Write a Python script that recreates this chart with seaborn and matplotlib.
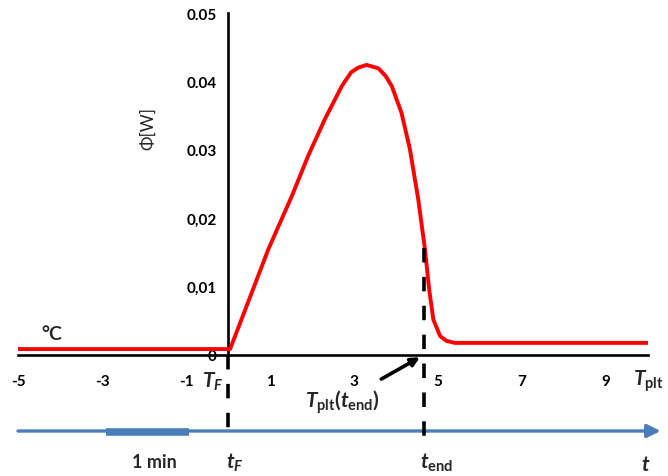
import matplotlib
matplotlib.use("Agg")
import matplotlib.pyplot as plt
import seaborn as sns
import pandas as pd

# ---- data ----
curve_x = [-5, 0.05, 0.5, 0.96, 1.52, 1.91, 2.31, 2.71, 2.93, 3.10, 3.30, 3.58, 3.75,
           3.90, 4.13, 4.33, 4.53, 4.69, 4.79, 4.89, 5.05, 5.2, 5.40, 10]
curve_y = [0.0008, 0.0008, 0.0080, 0.0154, 0.0232, 0.0291, 0.0345, 0.0393, 0.0413,
           0.0420, 0.0424, 0.0419, 0.0408, 0.0393, 0.0354, 0.0301, 0.0227, 0.0154,
           0.0095, 0.0051, 0.0027, 0.0020, 0.0017, 0.0017]
xticks = [-5, -3, -1, 1, 3, 5, 7, 9]
xtick_labels = ["-5", "-3", "-1", "1", "3", "5", "7", "9"]
yticks = [0, 0.01, 0.02, 0.03, 0.04, 0.05]
ytick_labels = ["0", "0,01", "0,02", "0.03", "0.04", "0.05"]
t_end = 4.67
t_end_level = 0.0156

sns.set_style("white")
plt.rcParams["font.family"] = ["Lato", "DejaVu Sans"]
plt.rcParams["mathtext.fontset"] = "custom"
plt.rcParams["mathtext.it"] = "Lato:italic:bold"
plt.rcParams["mathtext.rm"] = "Lato:bold"
plt.rcParams["mathtext.bf"] = "Lato:bold"

fig = plt.figure(figsize=(6.68, 4.77), dpi=100)
ax = fig.add_axes([18 / 668, (477 - 355.5) / 477, 630 / 668, 341.5 / 477])

df = pd.DataFrame({"x": curve_x, "y": curve_y})
sns.lineplot(data=df, x="x", y="y", color="#FF0000", lw=2.8, ax=ax, zorder=3)

ax.set_xlim(-5, 10)
ax.set_ylim(0, 0.05)
ax.set_xlabel("")
ax.set_ylabel("")

for s in ["top", "right"]:
    ax.spines[s].set_visible(False)
ax.spines["left"].set_position(("data", 0))
ax.spines["bottom"].set_position(("data", 0))
for s in ["left", "bottom"]:
    ax.spines[s].set_linewidth(1.9)
    ax.spines[s].set_color("black")

ax.set_xticks(xticks)
ax.set_xticklabels(xtick_labels, fontweight="bold", fontsize=11)
ax.set_yticks(yticks)
ax.set_yticklabels(ytick_labels, fontweight="bold", fontsize=11)
ax.tick_params(axis="x", direction="out", length=4, width=2, pad=10, colors="black")
ax.tick_params(axis="y", direction="out", length=4, width=2, pad=4, colors="black")

# y label
ax.text(-1.9, 0.0333, "Φ[W]", rotation=90, fontsize=12.5, ha="center", va="center",
        family=["Lato", "DejaVu Sans"])
ax.text(-4.19, 0.0031, "°C", fontsize=14, fontweight="bold", ha="center", va="center")

# dashed verticals
ax.plot([0, 0], [0, -0.0119], color="black", lw=2.6, dashes=(4, 4), clip_on=False)
ax.plot([t_end, t_end], [t_end_level, -0.0121], color="black", lw=2.6, dashes=(4, 4),
        clip_on=False, zorder=4)

# lower time axis (blue arrow)
yb = -0.0112
ax.annotate("", xy=(10.3, yb), xytext=(-5, yb),
            arrowprops=dict(arrowstyle="-|>,head_length=0.8,head_width=0.4",
                            color="#4A7EBB", lw=2.4, shrinkA=0, shrinkB=0),
            annotation_clip=False)
ax.plot([-2.9, -0.93], [yb - 0.0002, yb - 0.0002], color="#4A7EBB", lw=5.5,
        solid_capstyle="butt", clip_on=False)

# black arrow to T_plt(t_end)
ax.annotate("", xy=(4.57, -0.0004), xytext=(3.65, -0.0036),
            arrowprops=dict(arrowstyle="-|>,head_length=0.5,head_width=0.25",
                            color="black", lw=2.6, shrinkA=0, shrinkB=0),
            annotation_clip=False)

# labels
ax.text(-0.62, -0.0039, r"$T_F$", fontsize=15, ha="left", va="center")
ax.text(9.64, -0.0037, r"$T_{\mathrm{plt}}$", fontsize=15, ha="left", va="center")
ax.text(1.83, -0.0069, r"$T_{\mathrm{plt}}(t_{\mathrm{end}})$", fontsize=15,
        ha="left", va="center")
ax.text(-1.76, -0.0157, "1 min", fontsize=13, fontweight="bold", ha="center", va="center")
ax.text(-0.05, -0.0157, r"$t_F$", fontsize=15, ha="left", va="center")
ax.text(4.57, -0.0157, r"$t_{\mathrm{end}}$", fontsize=15, ha="left", va="center")
ax.text(9.95, -0.0160, r"$t$", fontsize=15, ha="center", va="center")

fig.savefig("out.png", dpi=100)
